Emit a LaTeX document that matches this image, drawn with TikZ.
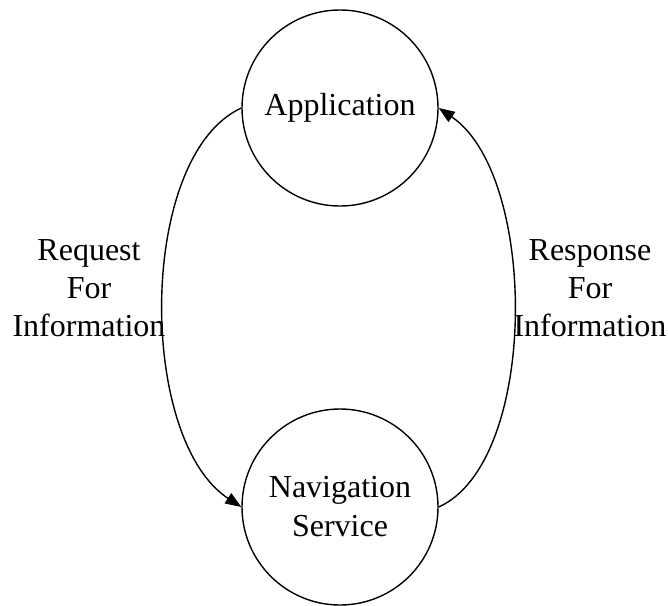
\documentclass[tikz,border=0pt]{standalone}
\usepackage{fontspec}
\setmainfont{Liberation Serif}
\usetikzlibrary{arrows.meta}
\begin{document}
\begin{tikzpicture}[x=1pt,y=-1pt,
  proc/.style={draw, circle, line width=1.4pt, minimum size=196pt, inner sep=0pt,
    align=center, font=\fontsize{32}{39}\selectfont},
  flow/.style={line width=1.4pt, -{Triangle[length=16pt,width=12pt]}},
  lbl/.style={align=center, font=\fontsize{32}{38}\selectfont, inner sep=0pt}]
  \useasboundingbox (0,0) rectangle (668,605);
  % the two processes
  \node[proc] (app) at (340,108) {Application};
  \node[proc] (nav) at (340,507) {Navigation\\Service};
  % request and response loops
  \draw[flow] (app.west) .. controls +(-104,48) and +(-104,-68) .. (nav.west);
  \draw[flow] (nav.east) .. controls +(100,-45) and +(100,68) .. (app.east);
  % loop labels
  \node[lbl] (req) at (89,288) {Request\\For\\Information};
  \node[lbl] (resp) at (590,288) {Response\\For\\Information};
\end{tikzpicture}
\end{document}
